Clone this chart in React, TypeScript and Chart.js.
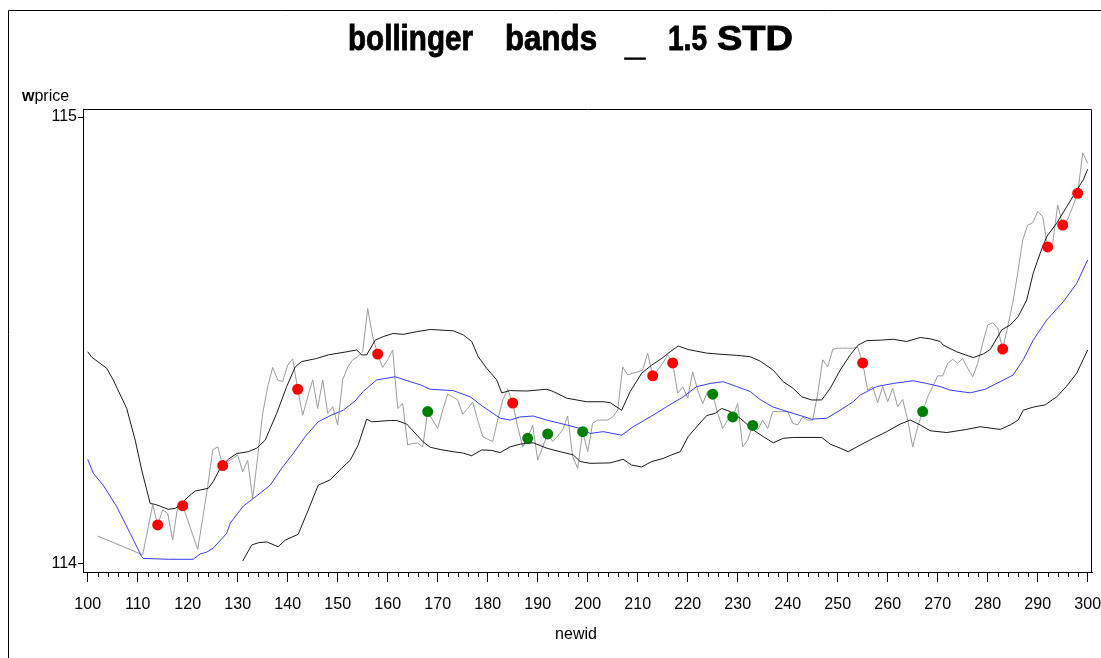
import React, { useEffect, useRef } from "react";
import { Chart, registerables } from "chart.js";

Chart.register(...registerables);

// ---- data ----
const newidStart = 100;
const wprice: (number | null)[] = [
  null, null, 114.061, null, null, null, null, null, null, null,
  null, 114.019, 114.075, 114.131, 114.086, 114.12, 114.112, 114.052, 114.127, 114.129,
  114.097, 114.064, 114.031, 114.101, 114.172, 114.254, 114.261, 114.219, 114.228, 114.235,
  114.243, 114.205, 114.231, 114.145, 114.239, 114.336, 114.396, 114.439, 114.411, 114.407,
  114.444, 114.458, 114.39, 114.332, 114.373, 114.411, 114.347, 114.411, 114.336, 114.351,
  114.31, 114.411, 114.44, 114.456, 114.463, 114.474, 114.571, 114.508, 114.469, 114.439,
  114.456, 114.478, 114.347, 114.358, 114.265, 114.269, 114.269, 114.261, 114.34, 114.321,
  114.302, 114.343, 114.379, 114.373, 114.366, 114.334, 114.347, 114.361, 114.321, 114.284,
  114.278, 114.273, 114.321, 114.366, 114.39, 114.359, 114.306, 114.261, 114.28, 114.31,
  114.231, 114.261, 114.29, 114.273, 114.285, 114.299, 114.33, 114.239, 114.213, 114.295,
  114.25, 114.314, 114.321, 114.321, 114.321, 114.328, 114.343, 114.44, 114.422, 114.426,
  114.429, 114.433, 114.471, 114.42, 114.433, 114.448, 114.467, 114.449, 114.381, 114.396,
  114.37, 114.429, 114.388, 114.358, 114.385, 114.379, 114.336, 114.302, 114.321, 114.328,
  114.358, 114.261, 114.276, 114.309, 114.299, 114.321, 114.302, 114.34, 114.34, 114.34,
  114.34, 114.314, 114.31, 114.328, 114.321, 114.321, 114.38, 114.456, 114.44, 114.479,
  114.482, 114.482, 114.482, 114.482, 114.484, 114.449, 114.388, 114.396, 114.36, 114.396,
  114.362, 114.392, 114.351, 114.367, 114.321, 114.261, 114.306, 114.34, 114.373, 114.396,
  114.42, 114.42, 114.448, 114.457, 114.448, 114.459, 114.437, 114.418, 114.448, 114.493,
  114.534, 114.539, 114.527, 114.48, 114.53, 114.583, 114.65, 114.724, 114.758, 114.763,
  114.788, 114.777, 114.709, 114.717, 114.803, 114.758, 114.771, 114.799, 114.829, 114.92,
  114.896,
];

const upperBand: [number, number][] = [
  [100, 114.474], [100.8, 114.462], [103.8, 114.437], [105.1, 114.411], [107.8, 114.347],
  [109.5, 114.276], [110.8, 114.209], [112.5, 114.134], [113.5, 114.132], [114.5, 114.128],
  [116.1, 114.121], [117.5, 114.123], [118.5, 114.131], [120.1, 114.149], [121.5, 114.162],
  [124.1, 114.168], [125.1, 114.183], [126.5, 114.213], [128.1, 114.233], [129.8, 114.246],
  [132.1, 114.25], [133.8, 114.258], [135.5, 114.276], [137.8, 114.336], [139.8, 114.396],
  [141.5, 114.44], [142.8, 114.452], [145.8, 114.459], [148.1, 114.467], [151.8, 114.474],
  [153.8, 114.478], [154.8, 114.467], [155.8, 114.467], [157.5, 114.5], [159.1, 114.508],
  [161.1, 114.515], [163.1, 114.513], [165.8, 114.519], [168.5, 114.524], [173.1, 114.521],
  [175.1, 114.512], [176.8, 114.497], [178.1, 114.463], [179.8, 114.437], [181.8, 114.411],
  [182.8, 114.382], [184.5, 114.387], [187.8, 114.386], [191.8, 114.39], [193.1, 114.385],
  [195.8, 114.37], [199.8, 114.362], [203.1, 114.362], [204.5, 114.36], [206.8, 114.343],
  [208.5, 114.385], [210.8, 114.426], [212.8, 114.444], [214.8, 114.459], [216.5, 114.474],
  [218.1, 114.487], [220.1, 114.479], [223.8, 114.471], [227.1, 114.468], [229.8, 114.466],
  [232.5, 114.463], [234.5, 114.453], [237.1, 114.433], [239.1, 114.407], [241.1, 114.392],
  [242.8, 114.373], [244.8, 114.366], [246.8, 114.366], [248.5, 114.392], [250.5, 114.433],
  [252.5, 114.467], [254.1, 114.489], [255.8, 114.499], [258.5, 114.5], [261.1, 114.502],
  [263.8, 114.497], [266.5, 114.506], [268.5, 114.503], [270.5, 114.497], [271.1, 114.489],
  [273.8, 114.474], [277.1, 114.461], [279.1, 114.469], [280.5, 114.479], [282.8, 114.523],
  [284.5, 114.534], [286.1, 114.553], [287.8, 114.59], [289.1, 114.65], [290.5, 114.695],
  [291.8, 114.732], [293.8, 114.762], [295.8, 114.799], [297.8, 114.836], [299.1, 114.859],
  [300, 114.883],
];

const movingAvg: [number, number][] = [
  [100, 114.233], [101.1, 114.202], [103.1, 114.175], [105.8, 114.127], [108.5, 114.067],
  [110.8, 114.015], [111.1, 114.011], [116.1, 114.009], [121.1, 114.009], [122.5, 114.021],
  [123.8, 114.025], [125.1, 114.034], [127.8, 114.067], [128.5, 114.09], [131.1, 114.128],
  [133.8, 114.151], [136.5, 114.175], [138.8, 114.213], [141.1, 114.246], [143.5, 114.284],
  [146.1, 114.317], [148.5, 114.331], [151.1, 114.343], [153.5, 114.364], [155.1, 114.385],
  [157.8, 114.411], [161.5, 114.418], [164.5, 114.407], [166.5, 114.4], [168.5, 114.39],
  [173.1, 114.387], [176.5, 114.373], [179.1, 114.351], [182.5, 114.325], [184.5, 114.321],
  [186.5, 114.328], [189.1, 114.33], [191.8, 114.321], [195.8, 114.31], [198.5, 114.302],
  [200.5, 114.291], [203.1, 114.295], [206.8, 114.287], [209.1, 114.306], [212.5, 114.328],
  [215.8, 114.351], [219.1, 114.373], [221.8, 114.396], [224.5, 114.403], [227.1, 114.407],
  [229.8, 114.396], [232.5, 114.385], [234.5, 114.367], [237.1, 114.35], [241.1, 114.336],
  [244.8, 114.323], [247.8, 114.325], [250.5, 114.343], [253.1, 114.362], [254.5, 114.377],
  [257.8, 114.396], [261.1, 114.403], [265.1, 114.409], [267.8, 114.403], [270.5, 114.396],
  [272.5, 114.388], [276.5, 114.382], [279.5, 114.39], [282.5, 114.407], [285.1, 114.422],
  [287.1, 114.456], [289.1, 114.5], [291.8, 114.545], [295.1, 114.586], [297.8, 114.627],
  [300, 114.68],
];

const lowerBand: [number, number][] = [
  [131, 114.005], [132.8, 114.041], [134.1, 114.046], [135.8, 114.048], [138.1, 114.037],
  [139.5, 114.052], [142.1, 114.065], [144.1, 114.119], [146.1, 114.175], [148.5, 114.187],
  [150.8, 114.213], [152.5, 114.231], [154.1, 114.265], [155.8, 114.323], [156.8, 114.317],
  [160.5, 114.32], [161.8, 114.32], [163.8, 114.312], [167.1, 114.272], [168.5, 114.26],
  [170.5, 114.255], [173.1, 114.25], [175.1, 114.247], [176.8, 114.241], [178.8, 114.254],
  [180.8, 114.253], [182.5, 114.248], [184.5, 114.261], [186.5, 114.267], [189.1, 114.27],
  [191.8, 114.258], [194.5, 114.25], [197.1, 114.243], [198.5, 114.228], [200.5, 114.224],
  [204.5, 114.225], [207.1, 114.233], [208.8, 114.22], [210.8, 114.216], [212.8, 114.228],
  [215.1, 114.235], [216.8, 114.243], [218.5, 114.25], [220.1, 114.284], [221.8, 114.306],
  [223.8, 114.331], [225.5, 114.336], [226.8, 114.347], [228.5, 114.34], [230.5, 114.325],
  [233.1, 114.299], [235.1, 114.284], [237.1, 114.27], [239.1, 114.28], [241.1, 114.282],
  [246.8, 114.282], [248.5, 114.267], [250.5, 114.258], [252.1, 114.25], [254.5, 114.265],
  [257.1, 114.28], [259.8, 114.295], [262.5, 114.312], [264.5, 114.321], [266.5, 114.31],
  [268.5, 114.297], [271.8, 114.293], [275.8, 114.3], [278.5, 114.306], [282.5, 114.3],
  [284.5, 114.31], [286.1, 114.321], [287.1, 114.343], [289.1, 114.35], [291.5, 114.355],
  [293.8, 114.373], [295.8, 114.397], [297.8, 114.426], [300, 114.478],
];

const sellIds = [114, 119, 127, 142, 158, 185, 213, 217, 255, 283, 292, 295, 298];
const buyIds = [168, 188, 192, 199, 225, 229, 233, 267];

const xMajorTicks = [100, 110, 120, 130, 140, 150, 160, 170, 180, 190, 200, 210, 220, 230, 240, 250, 260, 270, 280, 290, 300];
const xMinorStep = 2;
const yTicks = [114, 115];

const titleText = "bollinger  bands  _  1.5 STD";
const xTitle = "newid";
const yTitle = "wprice";

// ---- drawing ----
const FONT = "'Liberation Sans', Arial, Helvetica, sans-serif";

const priceAt = (id: number) => wprice[id - newidStart] as number;

export default function App() {
  const ref = useRef<HTMLCanvasElement | null>(null);

  useEffect(() => {
    const canvas = ref.current;
    if (!canvas) return;

    const xTickValues: number[] = [];
    for (let v = xMajorTicks[0]; v <= xMajorTicks[xMajorTicks.length - 1]; v += xMinorStep) xTickValues.push(v);

    const decor = {
      id: "decor",
      beforeDraw(chart: any) {
        const ctx = chart.ctx;
        ctx.save();
        ctx.fillStyle = "#fff";
        ctx.fillRect(0, 0, chart.width, chart.height);
        // outer frame
        ctx.strokeStyle = "#000";
        ctx.lineWidth = 1;
        ctx.beginPath();
        ctx.moveTo(8.5, chart.height + 5);
        ctx.lineTo(8.5, 10.5);
        ctx.lineTo(chart.width + 5, 10.5);
        ctx.stroke();
        ctx.restore();
      },
      afterDraw(chart: any) {
        const ctx = chart.ctx;
        const a = chart.chartArea;
        const xs = chart.scales.x;
        ctx.save();
        ctx.strokeStyle = "#000";
        ctx.lineWidth = 1;
        // top and right frame of the plot area
        ctx.beginPath();
        ctx.moveTo(Math.round(a.left) + 0.5, Math.round(a.top) + 0.5);
        ctx.lineTo(Math.round(a.right) - 0.5, Math.round(a.top) + 0.5);
        ctx.lineTo(Math.round(a.right) - 0.5, Math.round(a.bottom));
        ctx.stroke();
        // minor ticks
        ctx.beginPath();
        for (const v of xTickValues) {
          if (xMajorTicks.includes(v)) continue;
          const px = Math.round(xs.getPixelForValue(v)) + 0.5;
          ctx.moveTo(px, Math.round(a.bottom));
          ctx.lineTo(px, Math.round(a.bottom) + 5);
        }
        ctx.stroke();

        // title words, fitted to measured extents
        ctx.fillStyle = "#000";
        ctx.strokeStyle = "#000";
        ctx.lineWidth = 0.9;
        ctx.textBaseline = "alphabetic";
        ctx.font = `bold 35px ${FONT}`;
        const words = titleText.split(/\s+/);
        const boxes: [number, number, number][] = [
          [348, 125, 50], [505, 92, 50], [625, 20, 55], [668, 39, 50], [717, 76, 50],
        ];
        words.forEach((w, i) => {
          const [l, wd, base] = boxes[i];
          const m = ctx.measureText(w).width;
          ctx.save();
          ctx.translate(l, base);
          ctx.scale(wd / m, 1);
          ctx.fillText(w, 0, 0);
          ctx.strokeText(w, 0, 0);
          ctx.restore();
        });

        // y axis title
        ctx.font = `bold 16px ${FONT}`;
        ctx.fillText(yTitle.slice(0, 1), 22, 101);
        const wW = ctx.measureText(yTitle.slice(0, 1)).width;
        ctx.font = `16px ${FONT}`;
        ctx.fillText(yTitle.slice(1), 22 + wW, 101);

        // x axis title
        ctx.textAlign = "center";
        ctx.fillText(xTitle, 576, 639);
        ctx.restore();
      },
    };

    const chart = new Chart(canvas, {
      type: "line",
      data: {
        datasets: [
          {
            label: "sell",
            data: sellIds.map((id) => ({ x: id, y: priceAt(id) })),
            showLine: false,
            pointRadius: 5.5,
            pointBackgroundColor: "#ff0000",
            pointBorderWidth: 0,
            borderColor: "#ff0000",
          },
          {
            label: "buy",
            data: buyIds.map((id) => ({ x: id, y: priceAt(id) })),
            showLine: false,
            pointRadius: 5.5,
            pointBackgroundColor: "#008000",
            pointBorderWidth: 0,
            borderColor: "#008000",
          },
          {
            label: "upper",
            data: upperBand.map(([x, y]) => ({ x, y })),
            borderColor: "#1a1a1a",
            borderWidth: 1,
            pointRadius: 0,
          },
          {
            label: "lower",
            data: lowerBand.map(([x, y]) => ({ x, y })),
            borderColor: "#1a1a1a",
            borderWidth: 1,
            pointRadius: 0,
          },
          {
            label: "ma",
            data: movingAvg.map(([x, y]) => ({ x, y })),
            borderColor: "#3a3aff",
            borderWidth: 1,
            pointRadius: 0,
          },
          {
            label: "wprice",
            data: wprice.map((y, i) => ({ x: newidStart + i, y })),
            borderColor: "#9c9c9c",
            borderWidth: 1,
            pointRadius: 0,
            spanGaps: true,
          },
        ],
      },
      options: {
        animation: false,
        responsive: false,
        maintainAspectRatio: false,
        devicePixelRatio: 1,
        elements: { line: { tension: 0 } },
        layout: { padding: { left: 43, top: 109, right: 9, bottom: 36 } },
        plugins: { legend: { display: false }, tooltip: { enabled: false }, title: { display: false } },
        scales: {
          x: {
            type: "linear",
            min: 99.06,
            max: 300.86,
            afterBuildTicks: (s: any) => {
              s.ticks = xTickValues.map((v) => ({ value: v }));
            },
            afterFit: (s: any) => {
              s.height = 50;
              s.paddingLeft = 0;
              s.paddingRight = 0;
            },
            grid: {
              drawOnChartArea: false,
              drawTicks: true,
              tickLength: 10,
              tickWidth: 1,
              tickColor: (c: any) => (c.tick && xMajorTicks.includes(c.tick.value) ? "#000" : "rgba(0,0,0,0)"),
            },
            border: { display: true, color: "#000", width: 1 },
            ticks: {
              autoSkip: false,
              maxRotation: 0,
              minRotation: 0,
              padding: 13,
              color: "#000",
              font: { family: FONT, size: 16 },
              callback: (v: any) => (xMajorTicks.includes(Number(v)) ? String(v) : ""),
            },
          },
          y: {
            type: "linear",
            min: 113.9805,
            max: 115.018,
            afterBuildTicks: (s: any) => {
              s.ticks = yTicks.map((v) => ({ value: v }));
            },
            afterFit: (s: any) => {
              s.width = 40;
              s.paddingTop = 0;
              s.paddingBottom = 0;
            },
            grid: { drawOnChartArea: false, drawTicks: true, tickLength: 5, tickColor: "#000" },
            border: { display: true, color: "#000", width: 1 },
            ticks: {
              padding: 1,
              color: "#000",
              font: { family: FONT, size: 16 },
              callback: (v: any) => String(v),
            },
          },
        },
      },
      plugins: [decor],
    } as any);

    return () => chart.destroy();
  }, []);

  return (
    <div style={{ position: "absolute", left: 0, top: 0, width: 1101, height: 658, background: "#fff" }}>
      <canvas ref={ref} width={1101} height={658} style={{ display: "block", width: 1101, height: 658 }} />
    </div>
  );
}
